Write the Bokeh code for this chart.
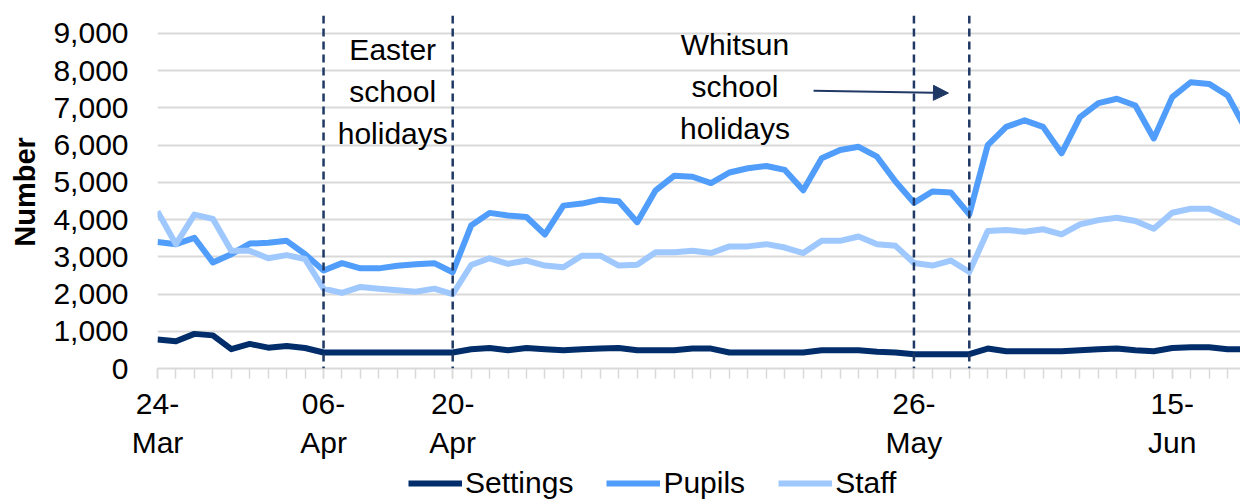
from bokeh.plotting import figure
from bokeh.layouts import column
from bokeh.models import (Range1d, FixedTicker, NumeralTickFormatter, Span, Label,
                          Arrow, NormalHead, Legend, LegendItem, ColumnDataSource)
from bokeh.embed import file_html
from bokeh.resources import INLINE

# x positions are school-day indices (weekdays, bank holidays excluded)
tick_index = [0, 9, 16, 41, 55]
tick_labels = ["24-\nMar", "06-\nApr", "20-\nApr", "26-\nMay", "15-\nJun"]

settings = [780, 730, 930, 890, 520, 660, 560, 605, 550, 430,
            430, 430, 430, 430, 430, 430, 430, 515, 550, 490,
            550, 515, 490, 515, 535, 550, 490, 490, 490, 535,
            535, 430, 430, 430, 430, 430, 490, 490, 490, 450,
            430, 385, 385, 385, 385, 535, 465, 465, 465, 465,
            490, 515, 535, 490, 465, 550, 570, 570, 515, 515]

pupils = [3400, 3340, 3510, 2850, 3070, 3355, 3380, 3430, 3070, 2630,
          2830, 2690, 2690, 2760, 2800, 2830, 2585, 3840, 4180, 4110,
          4070, 3600, 4375, 4430, 4535, 4490, 3930, 4785, 5175, 5150,
          4980, 5265, 5380, 5440, 5335, 4785, 5645, 5870, 5955, 5690,
          5025, 4450, 4755, 4730, 4140, 6000, 6490, 6665, 6490, 5780,
          6755, 7130, 7245, 7065, 6180, 7290, 7690, 7645, 7335, 6420]

staff = [4220, 3340, 4135, 4020, 3160, 3160, 2960, 3045, 2940, 2145,
         2030, 2190, 2145, 2100, 2060, 2145, 1995, 2780, 2960, 2810,
         2900, 2765, 2720, 3030, 3030, 2765, 2790, 3120, 3120, 3165,
         3100, 3280, 3280, 3340, 3250, 3100, 3430, 3430, 3545, 3340,
         3295, 2835, 2765, 2900, 2590, 3695, 3720, 3675, 3740, 3605,
         3870, 3985, 4050, 3960, 3755, 4185, 4290, 4290, 4075, 3850]

holiday_bounds = [9, 16, 41, 44]
y_ticks = [0, 1000, 2000, 3000, 4000, 5000, 6000, 7000, 8000, 9000]

series_names = ["Settings", "Pupils", "Staff"]
series_colors = ["#012D6A", "#509DFB", "#9FC8FF"]

idx = list(range(len(pupils)))
src = ColumnDataSource(dict(x=idx, settings=settings, pupils=pupils, staff=staff))

FONT = "Liberation Sans"
GRID = "#D9D9D9"
LINE_W = 6

p = figure(width=1240, height=462, output_backend="svg", toolbar_location=None,
           x_range=Range1d(0, 58.7), y_range=Range1d(0, 9482),
           min_border_left=157, min_border_right=0, min_border_top=15,
           min_border_bottom=92)
p.outline_line_color = None
p.background_fill_color = "white"
p.border_fill_color = "white"

for col, color in zip(["settings", "pupils", "staff"], series_colors):
    p.line("x", col, source=src, line_color=color, line_width=LINE_W, line_join="round")

# x axis
p.xaxis.ticker = FixedTicker(ticks=tick_index, minor_ticks=idx)
p.xaxis.major_label_overrides = {i: l for i, l in zip(tick_index, tick_labels)}
p.xaxis.axis_line_color = GRID
p.xaxis.axis_line_width = 2
p.xaxis.major_tick_line_color = GRID
p.xaxis.minor_tick_line_color = GRID
p.xaxis.major_tick_line_width = 1.5
p.xaxis.minor_tick_line_width = 1.5
p.xaxis.major_tick_out = 10
p.xaxis.major_tick_in = 0
p.xaxis.minor_tick_out = 10
p.xaxis.minor_tick_in = 0
p.xaxis.major_label_standoff = 8
p.xaxis.major_label_text_font = FONT
p.xaxis.major_label_text_font_size = "30px"
p.xaxis.major_label_text_color = "#000000"
p.xgrid.grid_line_color = None

# y axis
p.yaxis.ticker = FixedTicker(ticks=y_ticks)
p.yaxis.formatter = NumeralTickFormatter(format="0,0")
p.yaxis.axis_line_color = None
p.yaxis.major_tick_line_color = None
p.yaxis.minor_tick_line_color = None
p.yaxis.major_tick_out = 0
p.yaxis.major_label_standoff = 29
p.yaxis.major_label_text_font = FONT
p.yaxis.major_label_text_font_size = "30px"
p.yaxis.major_label_text_color = "#000000"
p.yaxis.axis_label = "Number"
p.yaxis.axis_label_text_font = FONT
p.yaxis.axis_label_text_font_size = "29px"
p.yaxis.axis_label_text_font_style = "bold"
p.yaxis.axis_label_text_color = "#000000"
p.yaxis.axis_label_standoff = 9
p.ygrid.ticker = FixedTicker(ticks=y_ticks)
p.ygrid.grid_line_color = GRID
p.ygrid.grid_line_width = 2

# holiday boundaries
for b in holiday_bounds:
    p.add_layout(Span(location=b, dimension="height", line_color="#1F3864",
                      line_dash="8 5", line_width=2.5))

# annotations
p.add_layout(Label(x=12.75, y=9000, text="Easter\nschool\nholidays", text_align="center",
                   text_baseline="top", text_font=FONT, text_font_size="30px",
                   text_line_height=1.27, text_color="#000000"))
p.add_layout(Label(x=31.3, y=9135, text="Whitsun\nschool\nholidays", text_align="center",
                   text_baseline="top", text_font=FONT, text_font_size="30px",
                   text_line_height=1.27, text_color="#000000"))
p.add_layout(Arrow(x_start=35.56, y_start=7460, x_end=42.87, y_end=7398,
                   line_color="#1F3864", line_width=2,
                   end=NormalHead(size=15, fill_color="#1F3864", line_color="#1F3864")))

# legend strip below the chart; its series fall outside this strip's ranges
pl = figure(width=1240, height=38, output_backend="svg", toolbar_location=None,
            x_range=Range1d(0, 1), y_range=Range1d(-2, -1), min_border=0,
            min_border_left=157)
pl.outline_line_color = None
pl.axis.visible = False
pl.grid.visible = False
legend_renderers = [pl.line("x", col, source=src, line_color=c, line_width=LINE_W)
                    for col, c in zip(["settings", "pupils", "staff"], series_colors)]
legend = Legend(items=[LegendItem(label=n, renderers=[r])
                       for n, r in zip(series_names, legend_renderers)],
                location=(251, 0), orientation="horizontal",
                border_line_color=None, background_fill_alpha=0,
                label_text_font=FONT, label_text_font_size="30px", label_text_color="#000000",
                glyph_width=54, glyph_height=30, label_standoff=3, spacing=33,
                padding=2, margin=0)
pl.add_layout(legend)

layout = column(p, pl, spacing=0)
open("out.html", "w").write(file_html(layout, INLINE))
